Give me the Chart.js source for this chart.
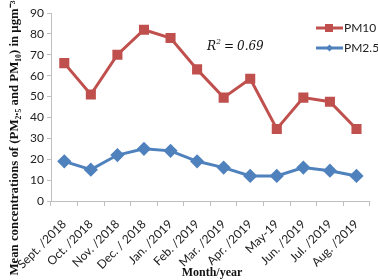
<!DOCTYPE html>
<html>
<head>
<meta charset="utf-8">
<script src="https://cdn.jsdelivr.net/npm/chart.js@4"></script>
<style>
  html, body { margin: 0; padding: 0; background: #fff; }
  #wrap { width: 378px; height: 280px; }
</style>
</head>
<body>
<div id="wrap"><canvas id="pmChart" width="378" height="280"></canvas></div>
<script>
const months = ['Sept. /2018', 'Oct. /2018', 'Nov. /2018', 'Dec. / 2018', 'Jan. /2019', 'Feb. /2019',
    'Mar. /2019', 'Apr. /2019', 'May-19', 'Jun. /2019', 'Jul. /2019', 'Aug. /2019'];
const pm10 = [66, 51, 70, 82, 78, 63, 49.5, 58.5, 34.5, 49.5, 47.5, 34.5];
const pm25 = [19, 15, 22, 25, 24, 19, 16, 12, 12, 16, 14.5, 12];
const yTicks = [0, 10, 20, 30, 40, 50, 60, 70, 80, 90];

const red = '#C0504D';
const blue = '#4F81BD';
const tickFont = { family: 'Lato', size: 12 };

// legend, R² note and axis titles drawn by hand
const extras = {
    id: 'extras',
    afterDraw(chart) {
        const c = chart.ctx;
        c.save();
        // legend
        const items = [
            { text: 'PM10', color: red, y: 28, square: true },
            { text: 'PM2.5', color: blue, y: 48, square: false }
        ];
        items.forEach(it => {
            c.strokeStyle = it.color;
            c.lineWidth = 3;
            c.beginPath();
            c.moveTo(316, it.y);
            c.lineTo(343, it.y);
            c.stroke();
            c.fillStyle = it.color;
            if (it.square) {
                c.fillRect(325, it.y - 4, 8, 8);
            } else {
                c.beginPath();
                c.moveTo(329.5, it.y - 3.5);
                c.lineTo(333, it.y);
                c.lineTo(329.5, it.y + 3.5);
                c.lineTo(326, it.y);
                c.closePath();
                c.fill();
            }
            c.fillStyle = '#222';
            c.font = '12px Lato';
            c.textBaseline = 'middle';
            c.textAlign = 'left';
            c.fillText(it.text, 344, it.y);
        });
        // R² = 0.69
        c.fillStyle = '#111';
        c.textBaseline = 'alphabetic';
        c.font = 'italic 12px "DejaVu Serif"';
        c.fillText('R', 207, 50);
        c.font = 'italic 8px "DejaVu Serif"';
        c.fillText('2', 216, 44);
        c.font = '12px "DejaVu Serif"';
        c.fillText('= ', 224, 50);
        c.font = 'italic 12px "DejaVu Serif"';
        c.fillText('0.69', 237, 50);
        // x title
        c.font = 'bold 12px "Liberation Serif"';
        c.textAlign = 'center';
        c.fillText('Month/year', 212, 276);
        // y title
        c.font = 'bold 12.8px "Liberation Serif"';
        c.translate(18, 138);
        c.rotate(-Math.PI / 2);
        c.fillText('Mean concentrations of (PM\u2082.\u2085 and PM\u2081\u2080) in \u00B5gm\u207B\u00B3', 0, 0);
        c.restore();
    }
};

const pmChart = new Chart(document.getElementById('pmChart').getContext('2d'), {
    type: 'line',
    data: {
        labels: months,
        datasets: [{
            label: 'PM10',
            data: pm10,
            borderColor: red,
            backgroundColor: red,
            borderWidth: 3,
            pointStyle: 'rect',
            pointRadius: 5,
            pointHoverRadius: 5,
            tension: 0
        }, {
            label: 'PM2.5',
            data: pm25,
            borderColor: blue,
            backgroundColor: blue,
            borderWidth: 3,
            pointStyle: 'rectRot',
            pointRadius: 5,
            pointHoverRadius: 5,
            tension: 0
        }]
    },
    options: {
        responsive: false,
        animation: false,
        layout: { padding: { top: 13, right: 1, left: 0, bottom: 0 } },
        plugins: {
            legend: { display: false },
            tooltip: { enabled: false }
        },
        scales: {
            x: {
                offset: true,
                grid: {
                    display: true,
                    drawOnChartArea: false,
                    drawTicks: true,
                    tickLength: 5,
                    offset: true,
                    color: '#bfbfbf'
                },
                border: { color: '#bfbfbf', width: 1 },
                ticks: {
                    color: '#222',
                    font: tickFont,
                    maxRotation: 45,
                    minRotation: 45,
                    autoSkip: false,
                    padding: 11
                },
                afterFit(scale) { scale.height = 79; }
            },
            y: {
                min: 0,
                max: 90,
                afterBuildTicks(scale) { scale.ticks = yTicks.map(v => ({ value: v })); },
                grid: {
                    display: true,
                    drawOnChartArea: false,
                    drawTicks: true,
                    tickLength: 4,
                    color: '#bfbfbf'
                },
                border: { color: '#bfbfbf', width: 1 },
                ticks: {
                    color: '#222',
                    font: tickFont,
                    padding: 3
                },
                afterFit(scale) { scale.width = 51; }
            }
        }
    },
    plugins: [extras]
});
</script>
</body>
</html>
